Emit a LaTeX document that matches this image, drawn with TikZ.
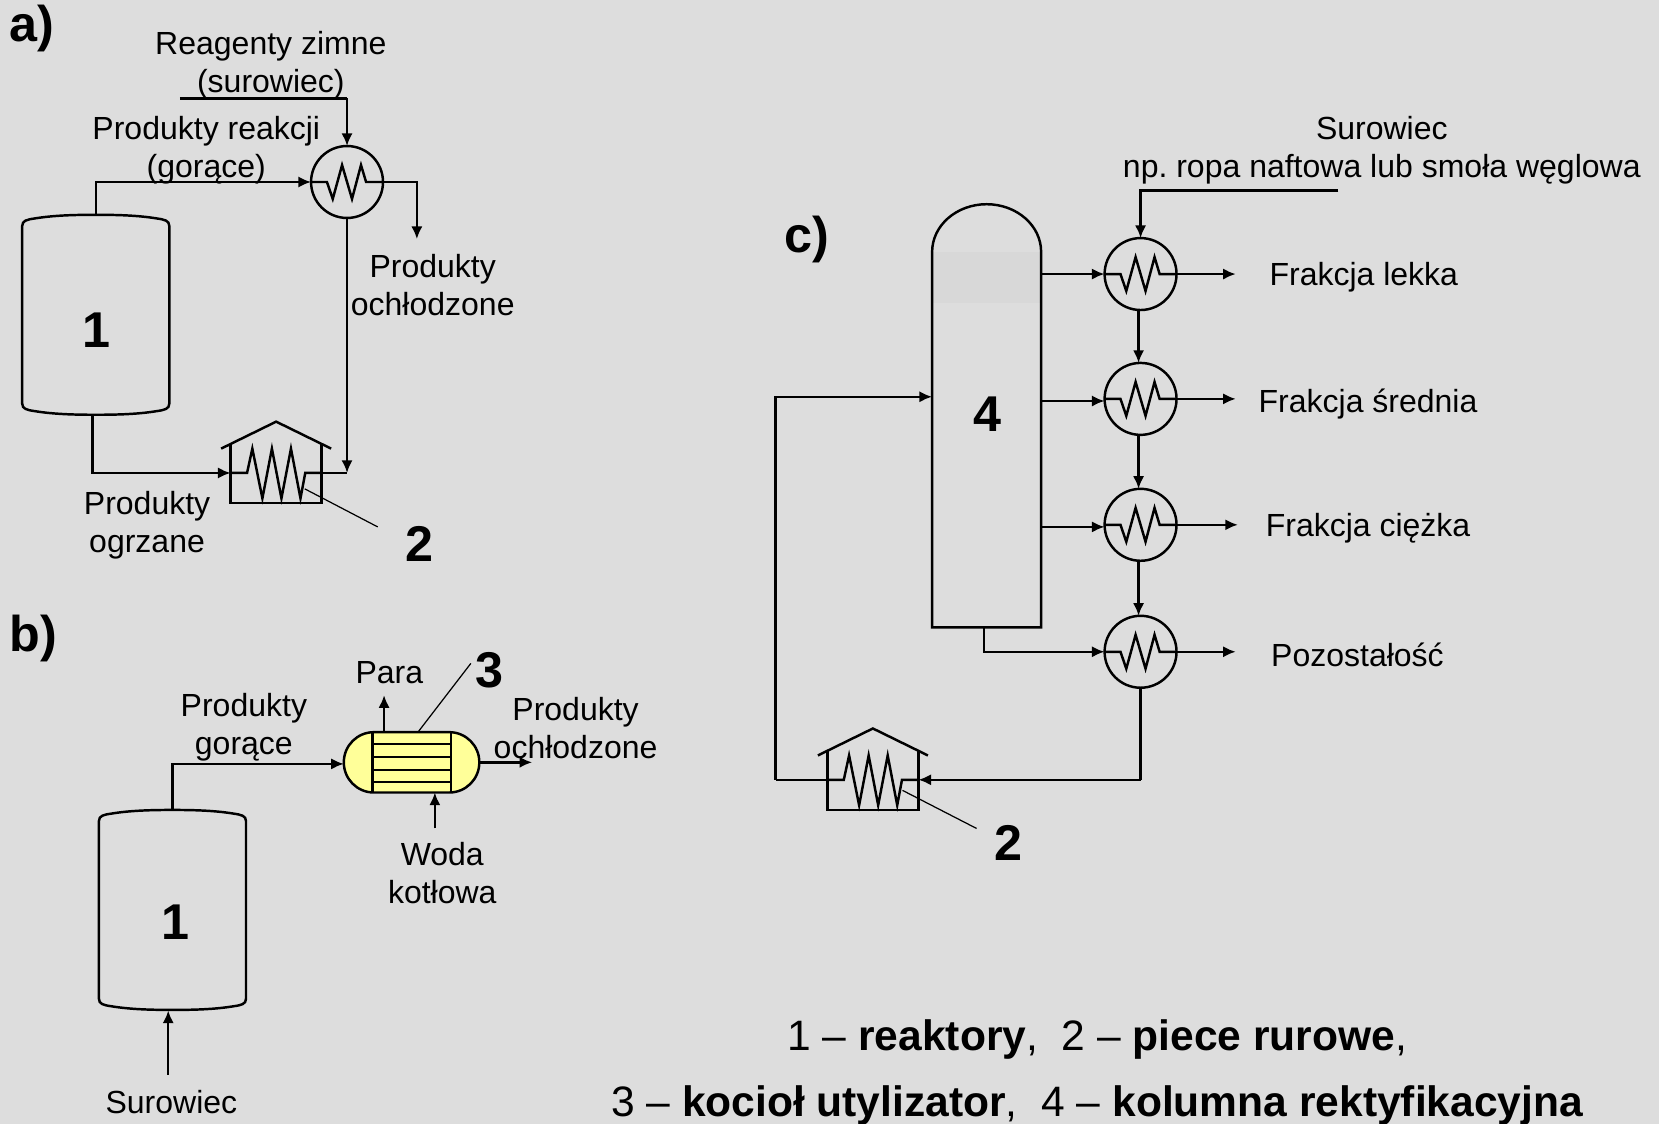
\documentclass[tikz,border=0pt]{standalone}
\usepackage{fontspec}
\setmainfont{Liberation Sans}
\usetikzlibrary{arrows.meta}
\definecolor{tlo}{HTML}{DDDDDD}
\definecolor{kociol}{HTML}{FFFF99}

\begin{document}
\frenchspacing
\begin{tikzpicture}[x=0.01058cm,y=-0.01058cm,line width=0.7pt,
  >={Latex[length=3.6pt,width=3.2pt]},
  lbl/.style={inner sep=0pt,align=center,font=\fontsize{9.1}{10.8}\selectfont},
  num/.style={inner sep=0pt,font=\fontsize{14.3}{16}\selectfont\bfseries},
  legenda/.style={inner sep=0pt,font=\fontsize{12.1}{15}\selectfont},
  leader/.style={line width=0.35pt},
  hx/.pic={
    \node[circle,draw,inner sep=0pt,outer sep=0pt,minimum size=0.719cm] (-c) {};
    \draw[line join=miter] (-34,0) -- (-19,0) -- (-13.5,16) -- (-4.7,-16) -- (4.7,16) -- (13.2,-16) -- (18,0) -- (34,0);
  },
  piec/.pic={
    \draw (-43,-27) -- (-43,28.5) -- (43,28.5) -- (43,-27);
    \draw (-52,-23) -- (0,-48.5) -- (52,-23);
    \draw (-43,0) -- (-27.5,0) -- (-22.5,-23) -- (-13,24) -- (-4,-23) -- (5,24) -- (14,-23) -- (23,24) -- (27.5,0) -- (43,0);
    \coordinate (-w) at (-43,0);
    \coordinate (-e) at (43,0);
  },
  reaktor/.pic={
    \draw (-69.5,-84) .. controls (-69.5,-89) and (-65,-90) .. (-58,-91)
      .. controls (-40,-94) and (-20,-94.5) .. (0,-94.5)
      .. controls (20,-94.5) and (40,-94) .. (58,-91)
      .. controls (65,-90) and (69.5,-89) .. (69.5,-84) -- (69.5,84)
      .. controls (69.5,89) and (65,90) .. (58,91)
      .. controls (40,94) and (20,94.5) .. (0,94.5)
      .. controls (-20,94.5) and (-40,94) .. (-58,91)
      .. controls (-65,90) and (-69.5,89) .. (-69.5,84) -- cycle;
    \coordinate (-n) at (0,-94.5);
    \coordinate (-s) at (-3,94.5);
  }]
  \fill[tlo] (0,0) rectangle (1568,1062);
  \useasboundingbox (0,0) rectangle (1568,1062);

  % a) reaktor, wymiennik, piec
  \node[num] (tytA) at (30.5,27) {a)};
  \pic (reakA) at (90.5,297.5) {reaktor};
  \node[num] (nrA) at (91,312) {1};
  \pic (hxA) at (328,172) {hx};
  \pic (piecA) at (261,447) {piec};
  \coordinate (wlotA) at (170,93);
  \coordinate (kolA) at (328,93);
  \coordinate (zakA) at (394,226);
  \coordinate (mietA) at (328,447);
  \coordinate (cewkaA) at (288,462);
  \coordinate (odnA) at (357,498);
  \draw (wlotA) -- (kolA);
  \draw[->] (kolA) -- (hxA-c.north);
  \draw[->] (reakA-n) |- (hxA-c.west);
  \draw[->] (hxA-c.east) -| (zakA);
  \draw[->] (reakA-s) |- (piecA-w);
  \draw (piecA-e) -- (mietA);
  \draw[->] (hxA-c.south) -- (mietA);
  \draw[leader] (cewkaA) -- (odnA);
  \node[lbl] (txtReag) at (256,62) {Reagenty zimne\\(surowiec)};
  \node[lbl] (txtProd) at (195,142) {Produkty reakcji\\(gorące)};
  \node[lbl] (txtOchl) at (409,269) {Produkty\\ochłodzone};
  \node[lbl] (txtOgrz) at (139,496) {Produkty\\ogrzane};
  \node[num] (nr2A) at (396,514) {2};

  % b) kociol utylizator
  \node[num] (tytB) at (31.5,603) {b)};
  \pic (reakB) at (163,860) {reaktor};
  \node[num] (nrB) at (166,872) {1};
  \node[draw,fill=kociol,rounded corners=0.3cm,inner sep=0pt,outer sep=0pt,
    minimum width=1.354cm,minimum height=0.603cm] (kociol) at (389,720.5) {};
  \draw (352,692) -- (352,749);
  \draw (426.5,692) -- (426.5,749);
  \foreach \y in {703,715.5,727.5,739}
    \draw (352,\y) -- (426.5,\y);
  \coordinate (paraB) at (363,657);
  \coordinate (paraK) at (363,692);
  \coordinate (wyjB) at (503,720.5);
  \coordinate (wlotB) at (325,722);
  \coordinate (wodaB) at (411,783);
  \coordinate (wodaK) at (411,749);
  \coordinate (surB) at (159,1016);
  \coordinate (surK) at (159,955);
  \coordinate (lead3a) at (395,692);
  \coordinate (lead3b) at (445,627);
  \draw[->] (reakB-n) |- (wlotB);
  \draw[->] (paraK) -- (paraB);
  \draw[->] (kociol.east) -- (wyjB);
  \draw[->] (wodaB) -- (wodaK);
  \draw[->] (surB) -- (surK);
  \draw[leader] (lead3a) -- (lead3b);
  \node[lbl] (txtPara) at (368,636) {Para};
  \node[lbl] (txtGor) at (230.5,687) {Produkty\\gorące};
  \node[lbl] (txtOchlB) at (544,688) {Produkty\\ochłodzone};
  \node[lbl] (txtWoda) at (418,825.5) {Woda\\kotłowa};
  \node[lbl] (txtSur) at (162,1042) {Surowiec};
  \node[num] (nr3) at (463,633) {3};

  % c) kolumna
  \node[num] (tytC) at (762.5,226) {c)};
  \fill[black!2!tlo] (881,238) rectangle (984,286);
  \draw (881,593) -- (881,238) arc[start angle=180,end angle=0,x radius=51.5,y radius=-45] -- (984,593) -- cycle;
  \node[num] (nr4) at (933,391) {4};
  \foreach \n/\y in {1/259,2/377,3/496,4/616}
    \pic (hx\n) at (1078,\y) {hx};
  \pic (piecC) at (825,737) {piec};
  % wyloty z kolumny
  \foreach \n/\y in {1/259,2/379,3/498}{
    \coordinate (kol\n) at (984,\y);
    \draw[->] (kol\n) -- (hx\n-c.west |- kol\n);
  }
  \coordinate (kol4) at (930,593);
  \draw[->] (kol4) |- (hx4-c.west);
  % frakcje
  \foreach \n/\x in {1/1168,2/1168,3/1170,4/1168}{
    \coordinate (wyj\n) at (\x,0 |- hx\n-c.east);
    \draw[->] (hx\n-c.east) -- (wyj\n);
  }
  \foreach \a/\b in {1/2,2/3,3/4}
    \draw[->] ([xshift=-0.02cm]hx\a-c.south) -- ([xshift=-0.02cm]hx\b-c.north);
  % surowiec i powrot przez piec
  \coordinate (surC) at (1265,180);
  \draw[->] (surC) -| (hx1-c.north);
  \coordinate (zaw) at (1078,737);
  \draw (hx4-c.south) -- (zaw);
  \draw[->] (zaw) -- (piecC-e);
  \coordinate (obwA) at (733,737);
  \coordinate (obwB) at (881,375);
  \draw (piecC-w) -- (obwA);
  \draw[->] (obwA) |- (obwB);
  \coordinate (lead2a) at (853,747);
  \coordinate (lead2b) at (923,783);
  \draw[leader] (lead2a) -- (lead2b);
  \node[num] (nr2C) at (953,797) {2};
  \node[lbl] (txtSurC) at (1306,142) {Surowiec\\np. ropa naftowa lub smoła węglowa};
  \node[lbl] (txtF1) at (1289,262) {Frakcja lekka};
  \node[lbl] (txtF2) at (1293,382) {Frakcja średnia};
  \node[lbl] (txtF3) at (1293,499) {Frakcja ciężka};
  \node[lbl] (txtF4) at (1283,619) {Pozostałość};

  % legenda
  \node[legenda] (leg1) at (1037,982) {1 – \textbf{reaktory},\ \ 2 – \textbf{piece rurowe},};
  \node[legenda] (leg2) at (1037,1045) {3 – \textbf{kocioł utylizator},\ \ 4 – \textbf{kolumna rektyfikacyjna}};
\end{tikzpicture}
\end{document}
